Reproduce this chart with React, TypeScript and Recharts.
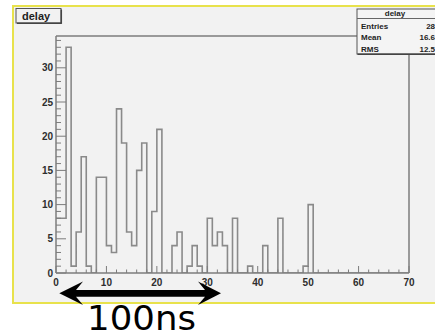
import React from 'react';
import { ComposedChart, Line, XAxis, YAxis } from 'recharts';

// histogram "delay": bin low edges 0..69 (width 1), counts per bin
const binLow = [
  0, 1, 2, 3, 4, 5, 6, 7, 8, 9,
  10, 11, 12, 13, 14, 15, 16, 17, 18, 19,
  20, 21, 22, 23, 24, 25, 26, 27, 28, 29,
  30, 31, 32, 33, 34, 35, 36, 37, 38, 39,
  40, 41, 42, 43, 44, 45, 46, 47, 48, 49,
  50, 51, 52, 53, 54, 55, 56, 57, 58, 59,
  60, 61, 62, 63, 64, 65, 66, 67, 68, 69, 70,
];
const counts = [
  8, 8, 33, 1, 6, 17, 1, 0, 14, 14,
  4, 3, 24, 19, 6, 4, 15, 19, 0, 9,
  21, 0, 0, 4, 6, 0, 1, 4, 1, 0,
  8, 4, 6, 4, 0, 8, 0, 0, 1, 0,
  0, 4, 0, 0, 8, 0, 0, 0, 0, 1,
  10, 0, 0, 0, 0, 0, 0, 0, 0, 0,
  0, 0, 0, 0, 0, 0, 0, 0, 0, 0, 0,
];

const xTicks = [0, 2, 4, 6, 8, 10, 12, 14, 16, 18, 20, 22, 24, 26, 28, 30, 32, 34, 36, 38, 40, 42, 44, 46, 48, 50, 52, 54, 56, 58, 60, 62, 64, 66, 68, 70];
const yTicks = [0, 1, 2, 3, 4, 5, 6, 7, 8, 9, 10, 11, 12, 13, 14, 15, 16, 17, 18, 19, 20, 21, 22, 23, 24, 25, 26, 27, 28, 29, 30, 31, 32, 33, 34];
const xMajor = [0, 10, 20, 30, 40, 50, 60, 70];
const yMajor = [0, 5, 10, 15, 20, 25, 30];

const histTitle = 'delay';
const statNames = ['Entries', 'Mean', 'RMS'];
const statValues = ['284', '16.64', '12.54'];
const arrowLabel = '100ns';

const data = binLow.map((b, i) => ({ x: b, y: counts[i] }));

const FONT = '"Liberation Sans", Arial, Helvetica, sans-serif';
const AXIS = '#7c7c7c';
const HIST = '#8a8a8a';
const LABEL = '#2e2e2e';

const XTick = (props: any) => {
  const { x, y, payload } = props;
  const v = payload.value;
  const major = xMajor.includes(v);
  return (
    <g>
      <line x1={x} x2={x} y1={y} y2={y - (major ? 7 : 3.5)} stroke={AXIS} strokeWidth={1} />
      {major && (
        <text x={x} y={y + 12.5} textAnchor="middle" fontSize={10} fontWeight="bold" fill={LABEL} fontFamily={FONT}>
          {v}
        </text>
      )}
    </g>
  );
};

const YTick = (props: any) => {
  const { x, y, payload } = props;
  const v = payload.value;
  const major = yMajor.includes(v);
  return (
    <g>
      <line x1={x} x2={x + (major ? 10 : 5)} y1={y} y2={y} stroke={AXIS} strokeWidth={1} />
      {major && (
        <text x={x - 3} y={y + 3.6} textAnchor="end" fontSize={10} fontWeight="bold" fill={LABEL} fontFamily={FONT}>
          {v}
        </text>
      )}
    </g>
  );
};

export default function App() {
  const W = 435;
  const H = 335;
  const L = 56, T = 36, R = 409, B = 273;
  return (
    <div style={{ position: 'absolute', left: 0, top: 0, width: W, height: H, background: '#fff', fontFamily: FONT, overflow: 'hidden' }}>
      <svg width={W} height={H} style={{ position: 'absolute', left: 0, top: 0 }}>
        <rect x={0} y={0} width={W} height={H} fill="#ffffff" />
        <rect x={13} y={6} width={440} height={297} fill="#f2f2f2" stroke="#e8e24c" strokeWidth={2} />
        <line x1={L} x2={R} y1={T} y2={T} stroke={AXIS} strokeWidth={1.5} />
        <line x1={R} x2={R} y1={T} y2={B} stroke={AXIS} strokeWidth={1.5} />
      </svg>
      <div style={{ position: 'absolute', left: 0, top: 0 }}>
        <ComposedChart width={W} height={H} data={data} margin={{ top: T, left: 16, right: W - R, bottom: 32 }}>
          <XAxis
            dataKey="x"
            type="number"
            domain={[0, 70]}
            ticks={xTicks}
            interval={0}
            allowDataOverflow
            height={H - B - 32}
            tickSize={0}
            tickMargin={0}
            tickLine={false}
            axisLine={{ stroke: AXIS, strokeWidth: 1.5 }}
            tick={(p: any) => <XTick {...p} />}
          />
          <YAxis
            type="number"
            domain={[0, 34.65]}
            ticks={yTicks}
            interval={0}
            allowDataOverflow
            width={L - 16}
            tickSize={0}
            tickMargin={0}
            tickLine={false}
            axisLine={{ stroke: AXIS, strokeWidth: 1.5 }}
            tick={(p: any) => <YTick {...p} />}
          />
          <Line
            dataKey="y"
            type="stepAfter"
            stroke={HIST}
            strokeWidth={1.6}
            dot={false}
            activeDot={false}
            isAnimationActive={false}
          />
        </ComposedChart>
      </div>
      <svg width={W} height={H} style={{ position: 'absolute', left: 0, top: 0, pointerEvents: 'none' }}>
        {/* title box */}
        <rect x={16} y={8.5} width={45} height={14.5} fill="#f2f2f2" stroke="#555" strokeWidth={1} />
        <line x1={17} x2={61.5} y1={23.3} y2={23.3} stroke="#444" strokeWidth={1.5} />
        <line x1={61.3} x2={61.3} y1={9.5} y2={23.8} stroke="#444" strokeWidth={1.5} />
        <text x={22} y={20} fontSize={11} fontWeight="bold" fill="#1e1e1e" fontFamily={FONT}>{histTitle}</text>
        {/* stats box */}
        <rect x={357} y={9} width={100} height={45} fill="#f4f4f4" stroke="#555" strokeWidth={1} />
        <line x1={357.5} x2={440} y1={54.3} y2={54.3} stroke="#444" strokeWidth={1.5} />
        <line x1={357} x2={440} y1={18.5} y2={18.5} stroke="#666" strokeWidth={1} />
        <text x={395} y={16} textAnchor="middle" fontSize={8} fontWeight="bold" fill="#1e1e1e" fontFamily={FONT}>{histTitle}</text>
        {statNames.map((n, i) => (
          <g key={n}>
            <text x={361} y={28.5 + i * 11.7} fontSize={8} fontWeight="bold" fill="#1e1e1e" fontFamily={FONT}>{n}</text>
            <text x={439.5} y={28.5 + i * 11.7} textAnchor="end" fontSize={8} fontWeight="bold" fill="#1e1e1e" fontFamily={FONT}>{statValues[i]}</text>
          </g>
        ))}
        {/* double arrow */}
        <path
          d="M59.3 293.3 L83 281.5 L76 290 L205 290 L198 281.5 L221 293.3 L198 305 L205 296.7 L76 296.7 L83 305 Z"
          fill="#000"
        />
        <text x={87} y={330} fontSize={34} fill="#000" fontFamily='"DejaVu Sans", sans-serif' textLength={109} lengthAdjust="spacingAndGlyphs">
          {arrowLabel}
        </text>
      </svg>
    </div>
  );
}
